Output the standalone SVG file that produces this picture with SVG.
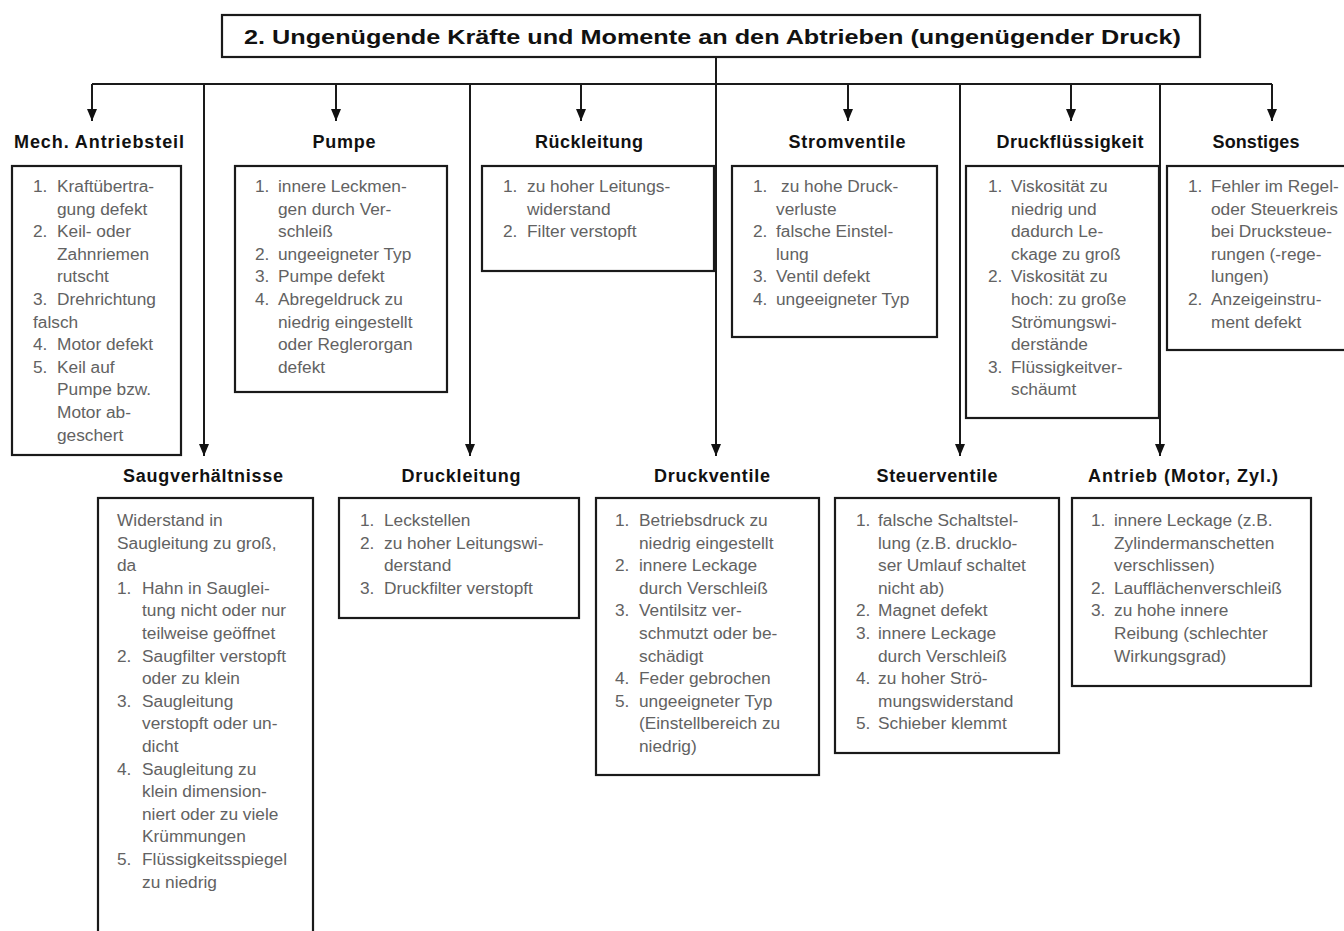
<svg xmlns="http://www.w3.org/2000/svg" width="1344" height="931" viewBox="0 0 1344 931">
  <style>
    .box { fill: #fff; stroke: #1a1a1a; stroke-width: 2.2; }
    .title { font-family: "Liberation Sans", Arial, sans-serif; font-weight: bold; font-size: 21px; fill: #111; }
    .head { font-family: "Liberation Sans", Arial, sans-serif; font-weight: bold; font-size: 18px; fill: #111; text-anchor: middle; }
    .body { font-family: "Liberation Sans", Arial, sans-serif; font-size: 17.3px; fill: #626262; }
    .wire { fill: none; stroke: #1a1a1a; stroke-width: 2; }
  </style>
  <defs>
    <marker id="arrow" viewBox="0 0 10 12" refX="5" refY="12" markerWidth="10" markerHeight="12" markerUnits="userSpaceOnUse" orient="0">
      <path d="M0,0 L10,0 L5,12 z" fill="#111"/>
    </marker>
  </defs>

  <rect width="1344" height="931" fill="#fff"/>

  <!-- root -->
  <g id="root">
    <rect class="box" x="222" y="15" width="978" height="42"/>
    <text class="title" x="244" y="44" textLength="937" lengthAdjust="spacingAndGlyphs">2. Ungenügende Kräfte und Momente an den Abtrieben (ungenügender Druck)</text>
  </g>

  <!-- connectors -->
  <g id="connectors">
    <path class="wire" d="M716,57 V84 M92,84 H1272"/>
    <line class="wire" x1="92" y1="84" x2="92" y2="121" marker-end="url(#arrow)"/>
    <line class="wire" x1="336" y1="84" x2="336" y2="121" marker-end="url(#arrow)"/>
    <line class="wire" x1="581" y1="84" x2="581" y2="121" marker-end="url(#arrow)"/>
    <line class="wire" x1="848" y1="84" x2="848" y2="121" marker-end="url(#arrow)"/>
    <line class="wire" x1="1071" y1="84" x2="1071" y2="121" marker-end="url(#arrow)"/>
    <line class="wire" x1="1272" y1="84" x2="1272" y2="121" marker-end="url(#arrow)"/>
    <line class="wire" x1="204" y1="84" x2="204" y2="456" marker-end="url(#arrow)"/>
    <line class="wire" x1="470" y1="84" x2="470" y2="456" marker-end="url(#arrow)"/>
    <line class="wire" x1="716" y1="84" x2="716" y2="456" marker-end="url(#arrow)"/>
    <line class="wire" x1="960" y1="84" x2="960" y2="456" marker-end="url(#arrow)"/>
    <line class="wire" x1="1160" y1="84" x2="1160" y2="456" marker-end="url(#arrow)"/>
  </g>

  <!-- upper row -->
  <g id="mech-antriebsteil">
    <text class="head" x="99" y="148" textLength="170" lengthAdjust="spacing">Mech. Antriebsteil</text>
    <rect class="box" x="12" y="166" width="169" height="289"/>
    <text class="body">
      <tspan x="33" y="192">1.</tspan><tspan x="57" y="192">Kraftübertra-</tspan>
      <tspan x="57" y="214.6">gung defekt</tspan>
      <tspan x="33" y="237.2">2.</tspan><tspan x="57" y="237.2">Keil- oder</tspan>
      <tspan x="57" y="259.8">Zahnriemen</tspan>
      <tspan x="57" y="282.4">rutscht</tspan>
      <tspan x="33" y="305">3.</tspan><tspan x="57" y="305">Drehrichtung</tspan>
      <tspan x="33" y="327.6">falsch</tspan>
      <tspan x="33" y="350.2">4.</tspan><tspan x="57" y="350.2">Motor defekt</tspan>
      <tspan x="33" y="372.8">5.</tspan><tspan x="57" y="372.8">Keil auf</tspan>
      <tspan x="57" y="395.4">Pumpe bzw.</tspan>
      <tspan x="57" y="418">Motor ab-</tspan>
      <tspan x="57" y="440.6">geschert</tspan>
    </text>
  </g>

  <g id="pumpe">
    <text class="head" x="344" y="148" textLength="63" lengthAdjust="spacing">Pumpe</text>
    <rect class="box" x="235" y="166" width="212" height="226"/>
    <text class="body">
      <tspan x="255" y="192">1.</tspan><tspan x="278" y="192">innere Leckmen-</tspan>
      <tspan x="278" y="214.6">gen durch Ver-</tspan>
      <tspan x="278" y="237.2">schleiß</tspan>
      <tspan x="255" y="259.8">2.</tspan><tspan x="278" y="259.8">ungeeigneter Typ</tspan>
      <tspan x="255" y="282.4">3.</tspan><tspan x="278" y="282.4">Pumpe defekt</tspan>
      <tspan x="255" y="305">4.</tspan><tspan x="278" y="305">Abregeldruck zu</tspan>
      <tspan x="278" y="327.6">niedrig eingestellt</tspan>
      <tspan x="278" y="350.2">oder Reglerorgan</tspan>
      <tspan x="278" y="372.8">defekt</tspan>
    </text>
  </g>

  <g id="rueckleitung">
    <text class="head" x="589" y="148" textLength="108" lengthAdjust="spacing">Rückleitung</text>
    <rect class="box" x="482" y="166" width="232" height="105"/>
    <text class="body">
      <tspan x="503" y="192">1.</tspan><tspan x="527" y="192">zu hoher Leitungs-</tspan>
      <tspan x="527" y="214.6">widerstand</tspan>
      <tspan x="503" y="237.2">2.</tspan><tspan x="527" y="237.2">Filter verstopft</tspan>
    </text>
  </g>

  <g id="stromventile">
    <text class="head" x="847" y="148" textLength="117" lengthAdjust="spacing">Stromventile</text>
    <rect class="box" x="732" y="166" width="205" height="171"/>
    <text class="body">
      <tspan x="753" y="192">1.</tspan><tspan x="781" y="192">zu hohe Druck-</tspan>
      <tspan x="776" y="214.6">verluste</tspan>
      <tspan x="753" y="237.2">2.</tspan><tspan x="776" y="237.2">falsche Einstel-</tspan>
      <tspan x="776" y="259.8">lung</tspan>
      <tspan x="753" y="282.4">3.</tspan><tspan x="776" y="282.4">Ventil defekt</tspan>
      <tspan x="753" y="305">4.</tspan><tspan x="776" y="305">ungeeigneter Typ</tspan>
    </text>
  </g>

  <g id="druckfluessigkeit">
    <text class="head" x="1070" y="148" textLength="147" lengthAdjust="spacing">Druckflüssigkeit</text>
    <rect class="box" x="966" y="166" width="193" height="252"/>
    <text class="body">
      <tspan x="988" y="192">1.</tspan><tspan x="1011" y="192">Viskosität zu</tspan>
      <tspan x="1011" y="214.6">niedrig und</tspan>
      <tspan x="1011" y="237.2">dadurch Le-</tspan>
      <tspan x="1011" y="259.8">ckage zu groß</tspan>
      <tspan x="988" y="282.4">2.</tspan><tspan x="1011" y="282.4">Viskosität zu</tspan>
      <tspan x="1011" y="305">hoch: zu große</tspan>
      <tspan x="1011" y="327.6">Strömungswi-</tspan>
      <tspan x="1011" y="350.2">derstände</tspan>
      <tspan x="988" y="372.8">3.</tspan><tspan x="1011" y="372.8">Flüssigkeitver-</tspan>
      <tspan x="1011" y="395.4">schäumt</tspan>
    </text>
  </g>

  <g id="sonstiges">
    <text class="head" x="1256" y="148" textLength="87" lengthAdjust="spacing">Sonstiges</text>
    <rect class="box" x="1167" y="166" width="185" height="184"/>
    <text class="body">
      <tspan x="1188" y="192">1.</tspan><tspan x="1211" y="192">Fehler im Regel-</tspan>
      <tspan x="1211" y="214.6">oder Steuerkreis</tspan>
      <tspan x="1211" y="237.2">bei Drucksteue-</tspan>
      <tspan x="1211" y="259.8">rungen (-rege-</tspan>
      <tspan x="1211" y="282.4">lungen)</tspan>
      <tspan x="1188" y="305">2.</tspan><tspan x="1211" y="305">Anzeigeinstru-</tspan>
      <tspan x="1211" y="327.6">ment defekt</tspan>
    </text>
  </g>

  <!-- lower row -->
  <g id="saugverhaeltnisse">
    <text class="head" x="203" y="482" textLength="160" lengthAdjust="spacing">Saugverhältnisse</text>
    <rect class="box" x="98" y="498" width="215" height="445"/>
    <text class="body">
      <tspan x="117" y="526">Widerstand in</tspan>
      <tspan x="117" y="548.6">Saugleitung zu groß,</tspan>
      <tspan x="117" y="571.2">da</tspan>
      <tspan x="117" y="593.8">1.</tspan><tspan x="142" y="593.8">Hahn in Sauglei-</tspan>
      <tspan x="142" y="616.4">tung nicht oder nur</tspan>
      <tspan x="142" y="639">teilweise geöffnet</tspan>
      <tspan x="117" y="661.6">2.</tspan><tspan x="142" y="661.6">Saugfilter verstopft</tspan>
      <tspan x="142" y="684.2">oder zu klein</tspan>
      <tspan x="117" y="706.8">3.</tspan><tspan x="142" y="706.8">Saugleitung</tspan>
      <tspan x="142" y="729.4">verstopft oder un-</tspan>
      <tspan x="142" y="752">dicht</tspan>
      <tspan x="117" y="774.6">4.</tspan><tspan x="142" y="774.6">Saugleitung zu</tspan>
      <tspan x="142" y="797.2">klein dimension-</tspan>
      <tspan x="142" y="819.8">niert oder zu viele</tspan>
      <tspan x="142" y="842.4">Krümmungen</tspan>
      <tspan x="117" y="865">5.</tspan><tspan x="142" y="865">Flüssigkeitsspiegel</tspan>
      <tspan x="142" y="887.6">zu niedrig</tspan>
    </text>
  </g>

  <g id="druckleitung">
    <text class="head" x="461" y="482" textLength="119" lengthAdjust="spacing">Druckleitung</text>
    <rect class="box" x="339" y="498" width="240" height="120"/>
    <text class="body">
      <tspan x="360" y="526">1.</tspan><tspan x="384" y="526">Leckstellen</tspan>
      <tspan x="360" y="548.6">2.</tspan><tspan x="384" y="548.6">zu hoher Leitungswi-</tspan>
      <tspan x="384" y="571.2">derstand</tspan>
      <tspan x="360" y="593.8">3.</tspan><tspan x="384" y="593.8">Druckfilter verstopft</tspan>
    </text>
  </g>

  <g id="druckventile">
    <text class="head" x="712" y="482" textLength="116" lengthAdjust="spacing">Druckventile</text>
    <rect class="box" x="596" y="498" width="223" height="277"/>
    <text class="body">
      <tspan x="615" y="526">1.</tspan><tspan x="639" y="526">Betriebsdruck zu</tspan>
      <tspan x="639" y="548.6">niedrig eingestellt</tspan>
      <tspan x="615" y="571.2">2.</tspan><tspan x="639" y="571.2">innere Leckage</tspan>
      <tspan x="639" y="593.8">durch Verschleiß</tspan>
      <tspan x="615" y="616.4">3.</tspan><tspan x="639" y="616.4">Ventilsitz ver-</tspan>
      <tspan x="639" y="639">schmutzt oder be-</tspan>
      <tspan x="639" y="661.6">schädigt</tspan>
      <tspan x="615" y="684.2">4.</tspan><tspan x="639" y="684.2">Feder gebrochen</tspan>
      <tspan x="615" y="706.8">5.</tspan><tspan x="639" y="706.8">ungeeigneter Typ</tspan>
      <tspan x="639" y="729.4">(Einstellbereich zu</tspan>
      <tspan x="639" y="752">niedrig)</tspan>
    </text>
  </g>

  <g id="steuerventile">
    <text class="head" x="937" y="482" textLength="121" lengthAdjust="spacing">Steuerventile</text>
    <rect class="box" x="835" y="498" width="224" height="255"/>
    <text class="body">
      <tspan x="856" y="526">1.</tspan><tspan x="878" y="526">falsche Schaltstel-</tspan>
      <tspan x="878" y="548.6">lung (z.B. drucklo-</tspan>
      <tspan x="878" y="571.2">ser Umlauf schaltet</tspan>
      <tspan x="878" y="593.8">nicht ab)</tspan>
      <tspan x="856" y="616.4">2.</tspan><tspan x="878" y="616.4">Magnet defekt</tspan>
      <tspan x="856" y="639">3.</tspan><tspan x="878" y="639">innere Leckage</tspan>
      <tspan x="878" y="661.6">durch Verschleiß</tspan>
      <tspan x="856" y="684.2">4.</tspan><tspan x="878" y="684.2">zu hoher Strö-</tspan>
      <tspan x="878" y="706.8">mungswiderstand</tspan>
      <tspan x="856" y="729.4">5.</tspan><tspan x="878" y="729.4">Schieber klemmt</tspan>
    </text>
  </g>

  <g id="antrieb">
    <text class="head" x="1183" y="482" textLength="190" lengthAdjust="spacing">Antrieb (Motor, Zyl.)</text>
    <rect class="box" x="1072" y="498" width="239" height="188"/>
    <text class="body">
      <tspan x="1091" y="526">1.</tspan><tspan x="1114" y="526">innere Leckage (z.B.</tspan>
      <tspan x="1114" y="548.6">Zylindermanschetten</tspan>
      <tspan x="1114" y="571.2">verschlissen)</tspan>
      <tspan x="1091" y="593.8">2.</tspan><tspan x="1114" y="593.8">Laufflächenverschleiß</tspan>
      <tspan x="1091" y="616.4">3.</tspan><tspan x="1114" y="616.4">zu hohe innere</tspan>
      <tspan x="1114" y="639">Reibung (schlechter</tspan>
      <tspan x="1114" y="661.6">Wirkungsgrad)</tspan>
    </text>
  </g>
</svg>
